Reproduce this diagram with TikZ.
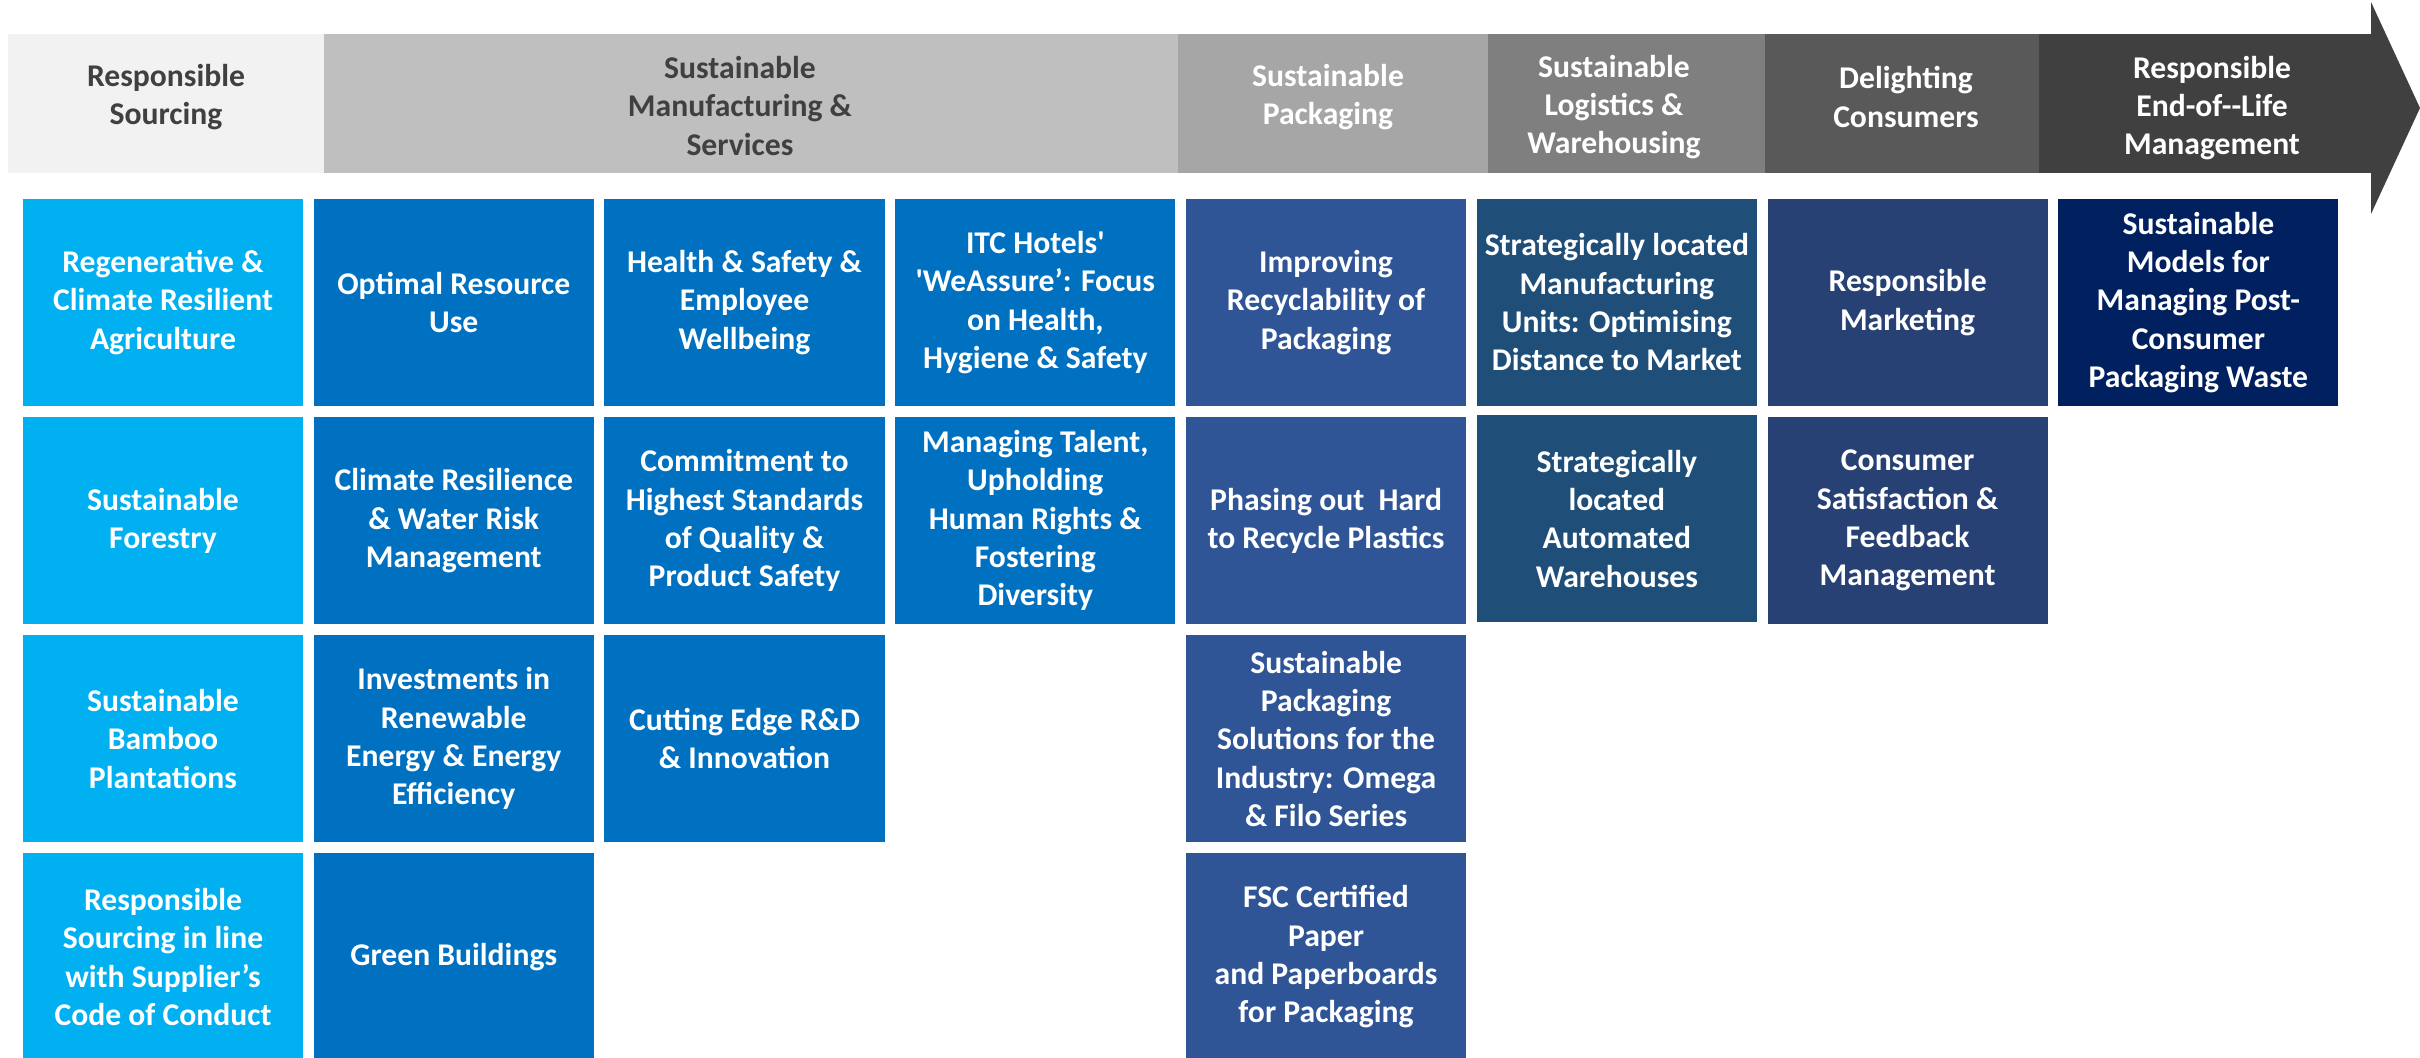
\documentclass[tikz,border=0pt]{standalone}
\usepackage{fontspec}
\setmainfont{Carlito}
\usepackage{tikz}
\usetikzlibrary{positioning}

\definecolor{hdrone}{HTML}{F2F2F2}
\definecolor{hdrtwo}{HTML}{BFBFBF}
\definecolor{hdrthree}{HTML}{A6A6A6}
\definecolor{hdrfour}{HTML}{7F7F7F}
\definecolor{hdrfive}{HTML}{595959}
\definecolor{hdrsix}{HTML}{404040}
\definecolor{hdrtext}{HTML}{404040}
\definecolor{srcblue}{HTML}{00B0F0}
\definecolor{mfgblue}{HTML}{0070C0}
\definecolor{packblue}{HTML}{2F5597}
\definecolor{logblue}{HTML}{1F4E79}
\definecolor{consblue}{HTML}{284175}
\definecolor{endblue}{HTML}{002060}

\begin{document}
\begin{tikzpicture}[x=0.01cm, y=-0.01cm,
	cell/.style={rectangle, minimum width=2.8cm, minimum height=2.07cm, inner sep=0pt, outer sep=0pt, align=center, text=white, font=\fontsize{9}{10.9}\selectfont\bfseries},
	htext/.style={inner sep=0pt, align=center, font=\fontsize{9}{10.9}\selectfont\bfseries}]
	\useasboundingbox (0,0) rectangle (2420,1058);

	% stage bar
	\fill[hdrone] (8,34) rectangle (324,173);
	\fill[hdrtwo] (324,34) rectangle (1178,173);
	\fill[hdrthree] (1178,34) rectangle (1488,173);
	\fill[hdrfour] (1488,34) rectangle (1765,173);
	\fill[hdrfive] (1765,34) rectangle (2039,173);
	\fill[hdrsix] (2039,34) rectangle (2371,173);
	\coordinate (tip) at (2420,108);
	\fill[hdrsix] (2371,2) -- (tip) -- (2371,214) -- cycle;
	\node[htext, text=hdrtext] (hsrc) at (166,97) {Responsible\\Sourcing};
	\node[htext, text=hdrtext] (hmfg) at (740,106) {Sustainable\\Manufacturing \&\\Services};
	\node[htext, text=white] (hpack) at (1328,97) {Sustainable\\Packaging};
	\node[htext, text=white] (hlog) at (1614,107) {Sustainable\\Logistics \&\\Warehousing};
	\node[htext, text=white] (hcons) at (1906,97) {Delighting\\Consumers};
	\node[htext, text=white] (hend) at (2212,108) {Responsible\\End-of-{}-Life\\Management};

	% sourcing
	\node[cell, fill=srcblue] (regen) at (163,302.5) {Regenerative \&\\Climate Resilient\\Agriculture};
	\node[cell, fill=srcblue, below=0.11cm of regen] (forest) {Sustainable\\Forestry};
	\node[cell, fill=srcblue, below=0.11cm of forest] (bamboo) {Sustainable\\Bamboo\\Plantations};
	\node[cell, fill=srcblue, below=0.11cm of bamboo] (supplier) {Responsible\\Sourcing in line\\with Supplier’s\\Code of Conduct};

	% manufacturing & services
	\node[cell, fill=mfgblue, right=0.106cm of regen] (resource) {Optimal Resource\\Use};
	\node[cell, fill=mfgblue, below=0.11cm of resource] (climate) {Climate Resilience\\\& Water Risk\\Management};
	\node[cell, fill=mfgblue, below=0.11cm of climate] (renew) {Investments in\\Renewable\\Energy \& Energy\\Efficiency};
	\node[cell, fill=mfgblue, below=0.11cm of renew] (green) {Green Buildings};

	\node[cell, fill=mfgblue, right=0.106cm of resource] (health) {Health \& Safety \&\\Employee\\Wellbeing};
	\node[cell, fill=mfgblue, below=0.11cm of health] (quality) {Commitment to\\Highest Standards\\of Quality \&\\Product Safety};
	\node[cell, fill=mfgblue, below=0.11cm of quality] (rnd) {Cutting Edge R\&D\\\& Innovation};

	\node[cell, fill=mfgblue, right=0.106cm of health] (hotels) {ITC Hotels\textquotesingle\\\textquotesingle WeAssure’: Focus\\on Health,\\Hygiene \& Safety};
	\node[cell, fill=mfgblue, below=0.11cm of hotels] (talent) {Managing Talent,\\Upholding\\Human Rights \&\\Fostering\\Diversity};

	% packaging
	\node[cell, fill=packblue, right=0.106cm of hotels] (recycle) {Improving\\Recyclability of\\Packaging};
	\node[cell, fill=packblue, below=0.11cm of recycle] (plastic) {Phasing out~ Hard\\to Recycle Plastics};
	\node[cell, fill=packblue, below=0.11cm of plastic] (omega) {Sustainable\\Packaging\\Solutions for the\\Industry: Omega\\\& Filo Series};
	\node[cell, fill=packblue, below=0.11cm of omega] (fsc) {FSC Certified\\Paper\\and Paperboards\\for Packaging};

	% logistics
	\node[cell, fill=logblue, right=0.106cm of recycle] (units) {Strategically located\\Manufacturing\\Units: Optimising\\Distance to Market};
	\node[cell, fill=logblue, below=0.09cm of units] (ware) {Strategically\\located\\Automated\\Warehouses};

	% consumers
	\node[cell, fill=consblue, right=0.106cm of units] (market) {Responsible\\Marketing};
	\node[cell, fill=consblue, below=0.11cm of market] (feedback) {Consumer\\Satisfaction \&\\Feedback\\Management};

	% end of life
	\node[cell, fill=endblue, right=0.106cm of market] (postcons) {Sustainable\\Models for\\Managing Post-\\Consumer\\Packaging Waste};
\end{tikzpicture}
\end{document}
